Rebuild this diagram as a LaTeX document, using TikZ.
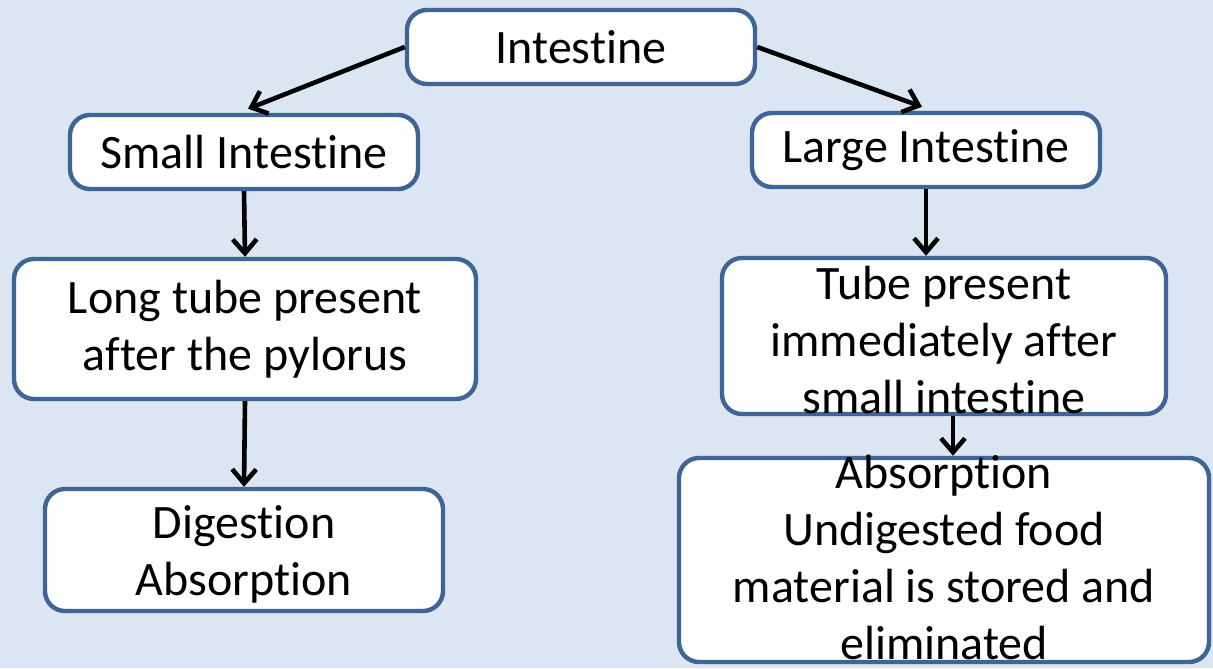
\documentclass[tikz,border=0pt]{standalone}
\usepackage{fontspec}
\setmainfont{Carlito}[Ligatures={NoCommon,NoRequired,NoContextual},Contextuals=NoAlternate,RawFeature={-dlig;-ccmp}]
\usetikzlibrary{arrows.meta,positioning}
\definecolor{panel}{HTML}{DCE6F2}
\definecolor{rim}{HTML}{3F6597}
\tikzset{
box/.style={draw=rim,rounded corners=10pt,line width=2.2pt,fill=white,inner sep=0pt},
txt/.style={align=center,font=\fontsize{24}{28.5}\selectfont,inner sep=0pt},
arr/.style={-{Straight Barb[length=7pt,width=12pt,line width=2.3pt]},line width=2.3pt,draw=black}}

\begin{document}
\begin{tikzpicture}[x=0.5pt,y=-0.5pt]
\fill[panel] (0,0) rectangle (1213,668);
\useasboundingbox (0,0) rectangle (1213,668);
\node[box,minimum width=174pt,minimum height=37pt] (intestine) at (581,47) {};
\node[box,minimum width=174pt,minimum height=37pt] (small) at (244,152) {};
\node[box,minimum width=174pt,minimum height=37pt] (large) at (926,150) {};
\node[box,minimum width=231pt,minimum height=70pt] (longtube) at (245,329) {};
\node[box,minimum width=222pt,minimum height=78pt] (tube) at (944,336) {};
\node[box,minimum width=199pt,minimum height=61pt] (digest) at (244,550) {};
\node[box,minimum width=265pt,minimum height=102pt] (absorb) at (944,560) {};
\node[txt] at (intestine) {Intestine};
\node[txt] at (small) {Small Intestine};
\node[txt] at (large) {Large Intestine};
\node[txt] at (longtube) {Long tube present\\after the pylorus};
\node[txt] at ([yshift=-2pt]tube.center) {Tube present\\immediately after\\small intestine};
\node[txt] at ([yshift=-2pt]digest.center) {Digestion\\Absorption};
\node[txt] at ([yshift=1pt]absorb.center) {Absorption\\Undigested food\\material is stored and\\eliminated};
\draw[arr] (intestine.west)--([xshift=2pt,yshift=2pt]small.north);
\draw[arr] (intestine.east)--([xshift=-2pt,yshift=2pt]large.north);
\draw[arr] (small.south)--(longtube.north);
\draw[arr] (longtube.south)--(digest.north);
\draw[arr] (large.south)--(large.south|-tube.north);
\draw[arr] ([xshift=4.5pt]tube.south)--([xshift=4.5pt]tube.south|-absorb.north);
\end{tikzpicture}
\end{document}
